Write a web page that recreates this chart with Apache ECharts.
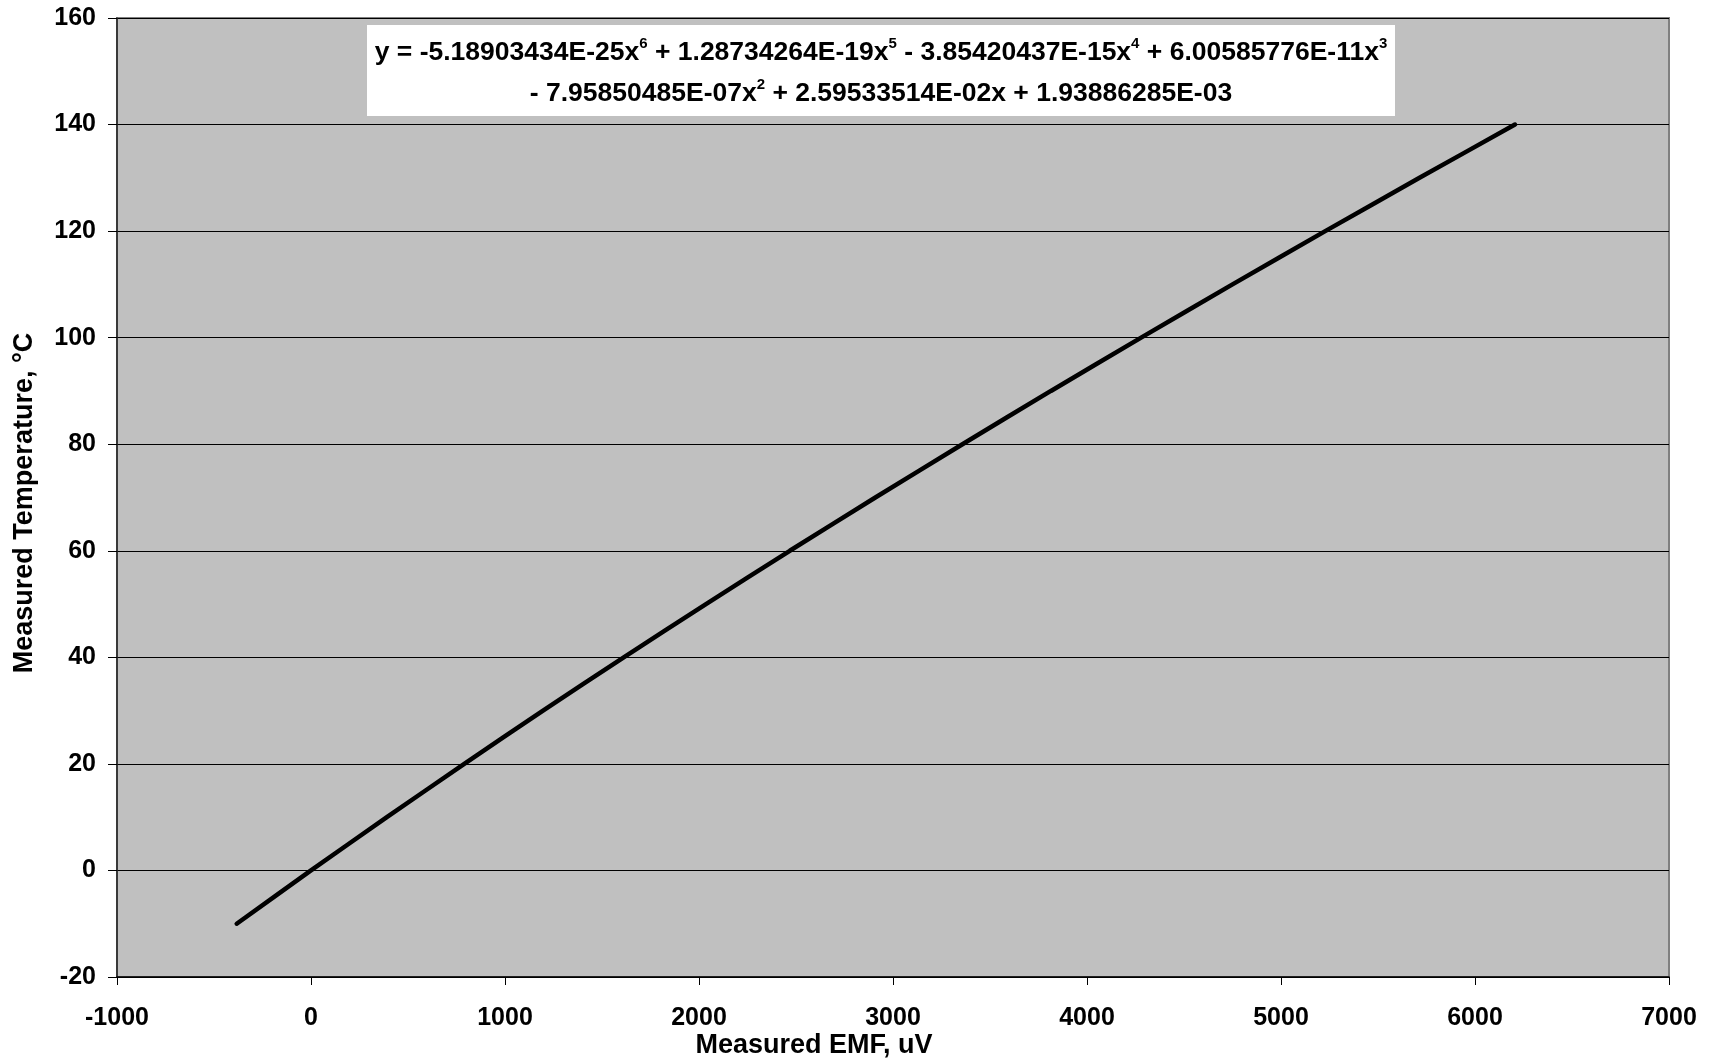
<!DOCTYPE html>
<html>
<head>
<meta charset="utf-8">
<script src="https://cdn.jsdelivr.net/npm/echarts@6/dist/echarts.min.js"></script>
<style>
html,body{margin:0;padding:0;background:#fff;}
#chart{width:1713px;height:1063px;}
</style>
</head>
<body>
<div id="chart"></div>
<script>
// Measured temperature (°C) and EMF (uV)
const temperatures = [-10, 0, 10, 20, 30, 40, 50, 60, 70, 80, 90, 100, 110, 120, 130, 140];
const emfValues = [-383, 0, 391, 790, 1196, 1612, 2036, 2468, 2909, 3358, 3814, 4279, 4750, 5228, 5714, 6206];
const xAxisRange = {min: -1000, max: 7000, step: 1000};
const yAxisRange = {min: -20, max: 160, step: 20};
const xTitle = 'Measured EMF, uV';
const yTitle = 'Measured Temperature, °C';
const eqLine1 = ['y = -5.18903434E-25x', '6', ' + 1.28734264E-19x', '5', ' - 3.85420437E-15x', '4', ' + 6.00585776E-11x', '3'];
const eqLine2 = ['- 7.95850485E-07x', '2', ' + 2.59533514E-02x + 1.93886285E-03'];

const FONT = '"Liberation Sans", Arial, sans-serif';

function richLine(parts) {
  return parts.map((p, i) => (i % 2 === 0 ? '{n|' + p + '}' : '{s|' + p + '}')).join('');
}

const points = emfValues.map((x, i) => [x, temperatures[i]]);

const chart = echarts.init(document.getElementById('chart'), null, {renderer: 'canvas'});
const gLeft = 117, gRight = 44, gTop = 18, gBottom = 86;
const richStyles = {
  n: {fontFamily: FONT, fontWeight: 'bold', fontSize: 26.5, fill: '#000', color: '#000'},
  s: {fontFamily: FONT, fontWeight: 'bold', fontSize: 15, fill: '#000', color: '#000', padding: [0, 0, 18, 0]}
};

chart.setOption({
  animation: false,
  backgroundColor: '#ffffff',
  grid: {
    left: gLeft, right: gRight, top: gTop, bottom: gBottom,
    show: true, backgroundColor: '#C0C0C0', borderColor: '#808080', borderWidth: 2
  },
  xAxis: {
    type: 'value',
    min: xAxisRange.min, max: xAxisRange.max, interval: xAxisRange.step,
    axisLine: {show: true, onZero: false, lineStyle: {color: '#000', width: 1.5}},
    axisTick: {show: true, length: 8, lineStyle: {color: '#000', width: 1}},
    axisLabel: {color: '#000', fontFamily: FONT, fontWeight: 'bold', fontSize: 25, margin: 29,
      formatter: v => String(v)},
    splitLine: {show: false}
  },
  yAxis: {
    type: 'value',
    min: yAxisRange.min, max: yAxisRange.max, interval: yAxisRange.step,
    axisLine: {show: true, onZero: false, lineStyle: {color: '#222', width: 1.5}},
    axisTick: {show: true, length: 9, lineStyle: {color: '#000', width: 1}},
    axisLabel: {color: '#000', fontFamily: FONT, fontWeight: 'bold', fontSize: 25, margin: 21,
      formatter: v => String(v)},
    splitLine: {show: true, lineStyle: {color: '#000', width: 1}}
  },
  series: [{
    type: 'line',
    data: points,
    showSymbol: false,
    smooth: 0.2,
    lineStyle: {color: '#000', width: 4.5, cap: 'round'},
    z: 5
  }],
  graphic: [
    {
      type: 'rect', z: 10,
      shape: {x: 367, y: 25, width: 1028, height: 91},
      style: {fill: '#ffffff'}
    },
    {
      type: 'text', z: 11,
      style: {
        x: 881, y: 53,
        text: richLine(eqLine1),
        align: 'center', verticalAlign: 'middle',
        rich: richStyles
      }
    },
    {
      type: 'text', z: 11,
      style: {
        x: 881, y: 94,
        text: richLine(eqLine2),
        align: 'center', verticalAlign: 'middle',
        rich: richStyles
      }
    },
    {
      type: 'text', z: 11,
      style: {
        x: 814, y: 1046, text: xTitle, align: 'center', verticalAlign: 'middle',
        fontFamily: FONT, fontWeight: 'bold', fontSize: 27, fill: '#000'
      }
    },
    {
      type: 'text', z: 11,
      x: 25, y: 503, rotation: Math.PI / 2,
      style: {
        x: 0, y: 0, text: yTitle, align: 'center', verticalAlign: 'middle',
        fontFamily: FONT, fontWeight: 'bold', fontSize: 27, fill: '#000'
      }
    }
  ]
});
</script>
</body>
</html>
